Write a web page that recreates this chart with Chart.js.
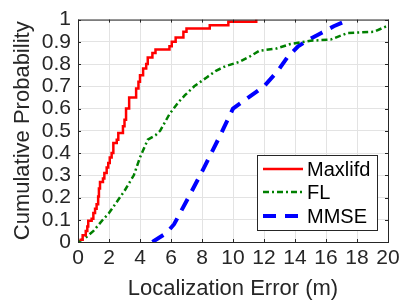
<!DOCTYPE html>
<html>
<head>
<meta charset="utf-8">
<script src="https://cdn.jsdelivr.net/npm/chart.js@4"></script>
<style>
  html, body { margin: 0; padding: 0; background: #fff; }
  #wrap { width: 410px; height: 303px; }
</style>
</head>
<body>
<div id="wrap"><canvas id="cdfChart" width="410" height="303"></canvas></div>
<script>
// CDF of localization error, three methods

const xTicks = [0, 2, 4, 6, 8, 10, 12, 14, 16, 18, 20];
const yTicks = [0, 0.1, 0.2, 0.3, 0.4, 0.5, 0.6, 0.7, 0.8, 0.9, 1];

// Maxlifd (empirical CDF, drawn as steps)
const maxX = [0.1, 0.3, 0.5, 0.6, 0.66, 0.88, 0.99, 1.1, 1.2, 1.3, 1.35, 1.42, 1.61, 1.7, 1.85, 1.95, 2.05, 2.17, 2.28, 2.5, 2.6, 2.9, 3.0, 3.1, 3.3, 3.75, 3.9, 4.0, 4.2, 4.4, 4.5, 4.8, 5.0, 5.9, 6.05, 6.3, 6.8, 7.0, 8.5, 9.7, 11.5];
const maxY = [0.01, 0.03, 0.05, 0.07, 0.095, 0.105, 0.13, 0.15, 0.17, 0.205, 0.24, 0.27, 0.285, 0.31, 0.335, 0.355, 0.38, 0.40, 0.445, 0.46, 0.49, 0.52, 0.55, 0.60, 0.65, 0.69, 0.72, 0.75, 0.78, 0.80, 0.83, 0.85, 0.865, 0.88, 0.90, 0.92, 0.945, 0.96, 0.975, 0.99, 1.0];

// FL
const flX = [0, 0.5, 1.0, 1.6, 2.0, 2.5, 3.0, 3.6, 4.0, 4.5, 5.0, 5.3, 5.9, 6.5, 6.9, 7.5, 8.3, 8.9, 9.5, 10.4, 11.1, 11.7, 12.8, 13.7, 15.0, 16.3, 17.4, 19.1, 19.9, 20];
const flY = [0, 0.02, 0.05, 0.10, 0.13, 0.18, 0.23, 0.30, 0.38, 0.46, 0.48, 0.50, 0.575, 0.63, 0.66, 0.70, 0.74, 0.77, 0.79, 0.81, 0.835, 0.86, 0.87, 0.89, 0.905, 0.91, 0.94, 0.945, 0.97, 0.975];

// MMSE
const mmseX = [4.8, 5.7, 6.2, 7.2, 8.1, 9.25, 10.0, 10.8, 12.0, 12.9, 13.5, 14.2, 14.9, 15.7, 16.5, 17.5];
const mmseY = [0, 0.04, 0.08, 0.21, 0.33, 0.49, 0.60, 0.64, 0.70, 0.77, 0.83, 0.88, 0.91, 0.94, 0.97, 1.0];

const seriesNames = ['Maxlifd', 'FL', 'MMSE'];

const axisColor = '#262626';
const gridColor = '#e3e3e3';
const fontFam = '"Liberation Sans", Arial, sans-serif';

function pts(xs, ys) { return xs.map((x, i) => ({ x: x, y: ys[i] })); }

// box, inward ticks and legend like a MATLAB figure
const boxPlugin = {
  id: 'boxPlugin',
  afterDraw(chart) {
    const { ctx, chartArea: a, scales } = chart;
    ctx.save();
    ctx.strokeStyle = axisColor;
    ctx.lineWidth = 1;
    ctx.strokeRect(a.left + 0.5, a.top + 0.5, a.right - a.left, a.bottom - a.top);
    const tl = 3;
    ctx.beginPath();
    xTicks.forEach(v => {
      const px = Math.round(scales.x.getPixelForValue(v)) + 0.5;
      ctx.moveTo(px, a.bottom); ctx.lineTo(px, a.bottom - tl);
      ctx.moveTo(px, a.top); ctx.lineTo(px, a.top + tl);
    });
    yTicks.forEach(v => {
      const py = Math.round(scales.y.getPixelForValue(v)) + 0.5;
      ctx.moveTo(a.left, py); ctx.lineTo(a.left + tl, py);
      ctx.moveTo(a.right, py); ctx.lineTo(a.right - tl, py);
    });
    ctx.stroke();

    // legend
    const lx = 257, ly = 155, lw = 120, lh = 75;
    ctx.fillStyle = '#fff';
    ctx.fillRect(lx, ly, lw, lh);
    ctx.strokeStyle = axisColor;
    ctx.strokeRect(lx + 0.5, ly + 0.5, lw, lh);
    const rows = [169, 192, 216];
    chart.data.datasets.forEach((ds, i) => {
      ctx.beginPath();
      ctx.strokeStyle = ds.borderColor;
      ctx.lineWidth = ds.borderWidth;
      ctx.setLineDash(ds.borderDash || []);
      ctx.moveTo(263, rows[i]); ctx.lineTo(303, rows[i]);
      ctx.stroke();
      ctx.setLineDash([]);
      ctx.fillStyle = '#000';
      ctx.font = '20px ' + fontFam;
      ctx.textBaseline = 'middle';
      ctx.textAlign = 'left';
      ctx.fillText(ds.label, 307, rows[i] + 1);
    });
    ctx.restore();
  }
};

new Chart(document.getElementById('cdfChart'), {
  type: 'line',
  data: {
    datasets: [{
      label: seriesNames[0],
      data: pts(maxX, maxY),
      borderColor: '#ff0000',
      borderWidth: 2.5,
      stepped: 'before',
      pointRadius: 0,
      fill: false
    }, {
      label: seriesNames[1],
      data: pts(flX, flY),
      borderColor: '#008000',
      borderWidth: 2.5,
      borderDash: [6, 3, 2, 3],
      pointRadius: 0,
      tension: 0,
      fill: false
    }, {
      label: seriesNames[2],
      data: pts(mmseX, mmseY),
      borderColor: '#0000ff',
      borderWidth: 4,
      borderDash: [13, 9],
      pointRadius: 0,
      tension: 0,
      fill: false
    }]
  },
  options: {
    responsive: false,
    animation: false,
    layout: { padding: { top: 12, right: 22, left: 0, bottom: 0 } },
    plugins: { legend: { display: false }, tooltip: { enabled: false } },
    scales: {
      x: {
        type: 'linear', min: 0, max: 20,
        afterBuildTicks: s => { s.ticks = xTicks.map(v => ({ value: v })); },
        afterFit: s => { s.height = 61; },
        ticks: { color: axisColor, font: { family: fontFam, size: 21 }, padding: 4, maxRotation: 0,
                 autoSkip: false, callback: v => String(v) },
        grid: { color: gridColor, drawTicks: false },
        border: { display: false },
        title: { display: true, text: 'Localization Error (m)', color: axisColor,
                 font: { family: fontFam, size: 22 }, padding: { top: 0, bottom: 1 } }
      },
      y: {
        type: 'linear', min: 0, max: 1,
        afterBuildTicks: s => { s.ticks = yTicks.map(v => ({ value: v })); },
        afterFit: s => { s.width = 78; },
        ticks: { color: axisColor, font: { family: fontFam, size: 21 }, padding: 7,
                 autoSkip: false, callback: v => String(v) },
        grid: { color: gridColor, drawTicks: false },
        border: { display: false },
        title: { display: true, text: 'Cumulative Probability', color: axisColor,
                 font: { family: fontFam, size: 22 }, padding: { top: 10, bottom: 0 } }
      }
    }
  },
  plugins: [boxPlugin]
});
</script>
</body>
</html>
